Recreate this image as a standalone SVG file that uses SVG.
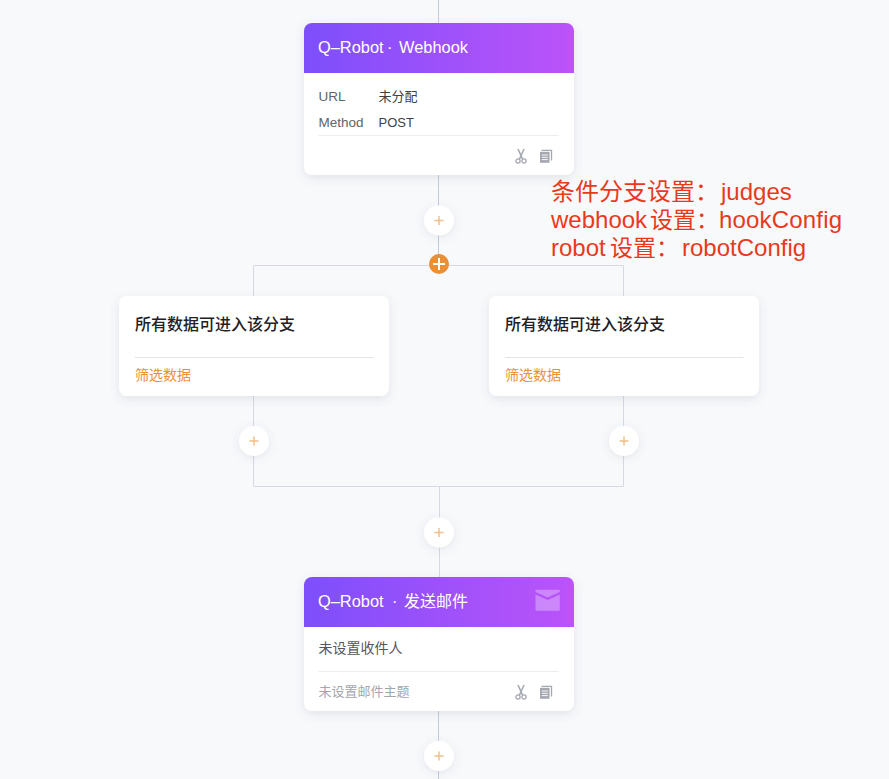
<svg xmlns="http://www.w3.org/2000/svg" width="889" height="779" viewBox="0 0 889 779">
<style>
text{font-family:"Liberation Sans","Noto Sans CJK SC",sans-serif}
.cjk{font-family:"Noto Sans CJK SC","Liberation Sans",sans-serif}
.line{fill:none;stroke:#d5d9e4;stroke-width:1}
.vline{fill:none;stroke:#c3cbdd;stroke-width:1}
.card{fill:#fff;filter:url(#sh)}
.sep{stroke:#eceef2;stroke-width:1}
.head{font-size:16.400px;fill:#fff}
.lab{font-size:13.500px;fill:#60646d}
.val{font-size:13px;fill:#3d4046}
.t{font-size:16px;fill:#1f2126;font-weight:500}
.or{font-size:14px;fill:#ec9138}
.red{font-size:24px;fill:#e9391d}
.ic{fill:#a5a8b0}
.pl{stroke:#f2c08a;stroke-width:1.500;fill:none}
</style>
<defs>
<linearGradient id="g" x1="0" y1="0" x2="1" y2="0"><stop offset="0" stop-color="#7d4ffb"/><stop offset="1" stop-color="#bc53f9"/></linearGradient>
<filter id="sh" x="-20%" y="-30%" width="140%" height="160%"><feDropShadow dx="0" dy="3" stdDeviation="5" flood-color="#5a6080" flood-opacity="0.14"/></filter>
<filter id="sh2" x="-50%" y="-50%" width="200%" height="200%"><feDropShadow dx="0" dy="2" stdDeviation="4" flood-color="#5a6080" flood-opacity="0.13"/></filter>
<g id="tools">
<g fill="none" stroke="#a5a8b0"><path stroke-width="1.500" d="M-3-7L1.800 3.600M3-7L-1.800 3.600"/><circle cx="-3" cy="5" r="2.100" stroke-width="1.300"/><circle cx="3" cy="5" r="2.100" stroke-width="1.300"/></g>
<g transform="translate(19,-7)"><rect class="ic" x="0" y="2.800" width="9.500" height="11"/><path d="M1.500 1.400H11.500V11.500" fill="none" stroke="#a5a8b0" stroke-width="1.300"/><path d="M1.800 6h6M1.800 8.300h6M1.800 10.600h6" stroke="#fff" stroke-width="0.900"/></g></g>
<g id="add"><circle r="15" fill="#fff" filter="url(#sh2)"/><path class="pl" d="M-4.500 0H4.500M0-4.500V4.500"/></g>
</defs>
<rect width="889" height="779" fill="#f8f9fb"/>
<g id="connectors">
<path class="vline" d="M438.500 0V265M438.500 711V780"/>
<path class="line" d="M439.500 487V577M253.500 296V265.500H623.500V296M253.500 396V486.500H623.500V396"/>
</g>
<g id="node-webhook">
<rect class="card" x="304" y="23" width="270" height="152" rx="8"/>
<path d="M304 73V31a8 8 0 0 1 8-8H566a8 8 0 0 1 8 8V73z" fill="url(#g)"/>
<text class="head" x="318" y="53">Q–Robot<tspan x="387">·</tspan><tspan x="399">Webhook</tspan></text>
<text class="lab" x="318.500" y="101">URL</text><text class="val cjk" x="378.500" y="101" font-size="13">未分配</text>
<text class="lab" x="318.500" y="127">Method</text><text class="val" x="378.500" y="127">POST</text>
<line class="sep" x1="318.500" y1="135.500" x2="559" y2="135.500"/>
<use href="#tools" x="521" y="156"/>
</g>
<g id="add-1"><use href="#add" x="439" y="220.500"/></g>
<g id="add-main"><circle cx="439" cy="264" r="10" fill="#ea8f36"/><path d="M433 264H445M439 258V270" stroke="#fff" stroke-width="2" fill="none"/></g>
<g id="branch-left">
<rect class="card" x="119" y="296" width="270" height="100" rx="8"/>
<text class="t cjk" x="135" y="330">所有数据可进入该分支</text>
<line class="sep" x1="135" y1="357.500" x2="373.500" y2="357.500" style="stroke:#e3e4ea"/>
<text class="or cjk" x="135" y="380">筛选数据</text>
</g>
<g id="branch-right">
<rect class="card" x="489" y="296" width="270" height="100" rx="8"/>
<text class="t cjk" x="505" y="330">所有数据可进入该分支</text>
<line class="sep" x1="505" y1="357.500" x2="743.500" y2="357.500" style="stroke:#e3e4ea"/>
<text class="or cjk" x="505" y="380">筛选数据</text>
</g>
<g id="add-left"><use href="#add" x="254" y="441"/></g>
<g id="add-right"><use href="#add" x="624" y="441"/></g>
<g id="add-2"><use href="#add" x="439" y="532.500"/></g>
<g id="node-mail">
<rect class="card" x="304" y="577" width="270" height="134" rx="8"/>
<path d="M304 627V585a8 8 0 0 1 8-8H566a8 8 0 0 1 8 8V627z" fill="url(#g)"/>
<text class="head" x="318" y="607">Q–Robot<tspan x="392">·</tspan><tspan class="cjk" x="404" font-size="16">发送邮件</tspan></text>
<path d="M535.500 592v-1.500a.8.8 0 0 1 .8-.8H559a.8.8 0 0 1 .8.8V592l-12.200 5.500z" fill="#fff" fill-opacity=".3"/>
<path d="M535.500 594.500l12.200 5.500 12.100-5.500V610a.8.8 0 0 1-.8.8H536.300a.8.8 0 0 1-.8-.8z" fill="#fff" fill-opacity=".3"/>
<text class="cjk" x="318.500" y="653" font-size="14" fill="#54575e">未设置收件人</text>
<line class="sep" x1="318.500" y1="671.500" x2="559" y2="671.500"/>
<text class="cjk" x="318.500" y="696" font-size="13" fill="#a4a6ad">未设置邮件主题</text>
<use href="#tools" x="521" y="692"/>
</g>
<g id="add-3"><use href="#add" x="439" y="756"/></g>
<g id="note">
<text class="red" x="551" y="200"><tspan class="cjk">条件分支设置：</tspan><tspan x="721">judges</tspan></text>
<text class="red" x="551" y="228">webhook<tspan class="cjk" x="650" font-size="23">设置：</tspan><tspan x="719" textLength="123">hookConfig</tspan></text>
<text class="red" x="551" y="256">robot<tspan class="cjk" x="610" font-size="23">设置：</tspan><tspan x="682">robotConfig</tspan></text>
</g>
</svg>
